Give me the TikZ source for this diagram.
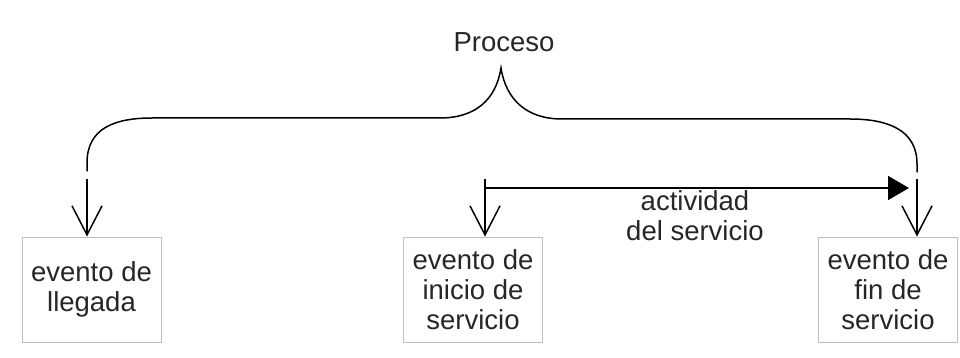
\documentclass[tikz,border=0pt]{standalone}
\usepackage{fontspec}
\setmainfont{Liberation Sans}
\usetikzlibrary{arrows.meta}
\begin{document}
\begin{tikzpicture}[x=1pt,y=-1pt,
  line width=1.5pt,
  txt/.style={font=\fontsize{27.5}{30}\selectfont, align=center, text=black!85},
  eventbox/.style={txt, draw=black!25, line width=1pt, minimum width=139pt,
    minimum height=105pt, inner sep=0pt},
  down/.style={-{Straight Barb[length=29pt,width=30pt]}},
  brace/.style={line cap=round}]
\useasboundingbox (0,0) rectangle (960,358);

% event boxes
\node[eventbox] (llegada) at (91.5,289.5) {evento de\\llegada};
\node[eventbox] (inicio)  at (473,289.5)  {evento de\\inicio de\\servicio};
\node[eventbox] (fin)     at (888,289.5)  {evento de\\fin de\\servicio};

% title and activity label
\node[txt, inner sep=0pt] (proceso) at (504,42) {Proceso};
\node[txt, inner sep=0pt] (actividad) at (695,216) {actividad\\del servicio};

% brace over the whole process
\coordinate (bl) at (87,171);
\coordinate (tip) at (501,68);
\coordinate (br) at (917,172);
\draw[brace] (bl) -- (87,163)
  .. controls (87,128) and (115,118) .. (152,118)
  -- (440,118)
  .. controls (475,118) and (496,100) .. (tip)
  .. controls (506,100) and (527,119) .. (562,119)
  -- (850,119)
  .. controls (888,119) and (917,130) .. (917,164) -- (br);

% arrows down to the events
\coordinate (a1) at (87,179);
\coordinate (a2) at (485,179);
\coordinate (a3) at (917,179);
\draw[down] (a1) -- (a1 |- llegada.north);
\draw[down] (a2) -- (a2 |- inicio.north);
\draw[down] (a3) -- (a3 |- fin.north);

% service activity span
\coordinate (s0) at (485,188);
\coordinate (s1) at (909,188);
\draw[-{Triangle[length=21pt,width=24pt]}] (s0) -- (s1);
\end{tikzpicture}
\end{document}
